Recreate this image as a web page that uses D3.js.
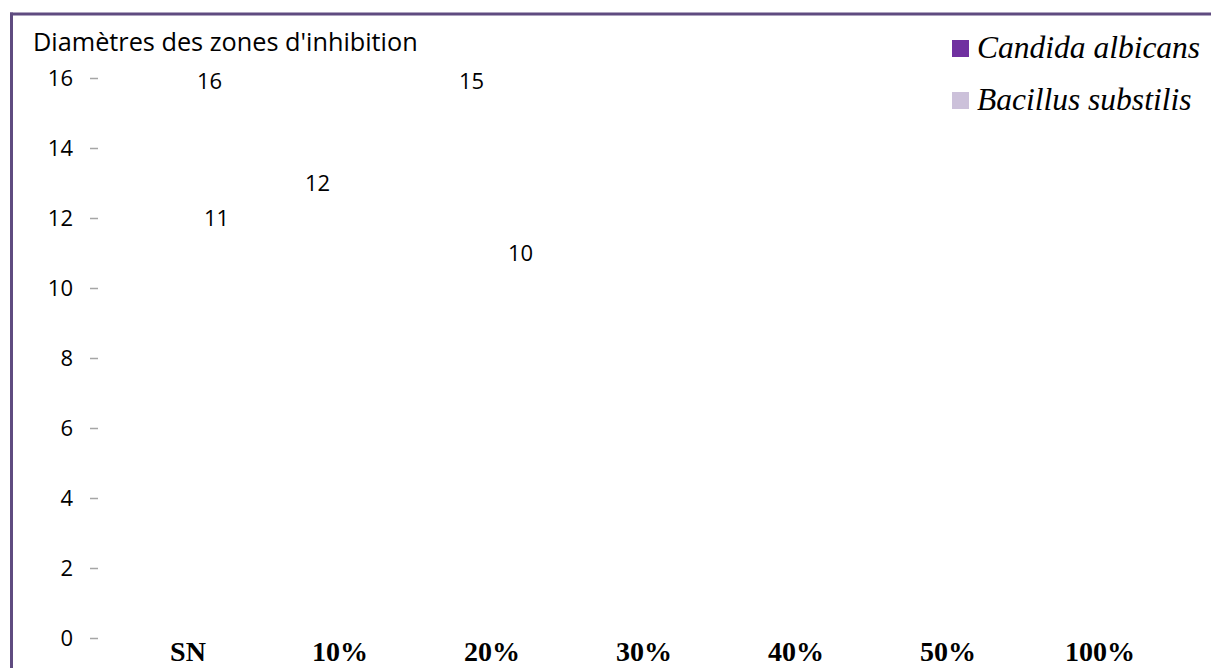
<!DOCTYPE html>
<html><head><meta charset="utf-8">
<script src="https://cdn.jsdelivr.net/npm/d3@7"></script>
<style>
html,body{margin:0;padding:0;background:#fff;}
svg{display:block;}
</style></head>
<body>
<svg id="chart" width="1211" height="668"></svg>
<script>
const categories = ["SN", "10%", "20%", "30%", "40%", "50%", "100%"];
const seriesNames = ["Candida albicans", "Bacillus substilis"];
const candida = [16, 12, 15, null, null, null, null];
const bacillus = [11, null, 10, null, null, null, null];
const yTicks = [0, 2, 4, 6, 8, 10, 12, 14, 16];
const titleText = "Diamètres des zones d'inhibition";
const colors = ["#7030A0", "#CCC1DA"];

const svg = d3.select("#chart");
const W = 1211, H = 668;

// frame (top and left border)
svg.append("line").attr("x1", 10).attr("x2", W).attr("y1", 14).attr("y2", 14)
  .attr("stroke", "#5F4B80").attr("stroke-width", 3);
svg.append("line").attr("x1", 11.5).attr("x2", 11.5).attr("y1", 12.5).attr("y2", H)
  .attr("stroke", "#5F4B80").attr("stroke-width", 3);

const y = d3.scaleLinear().domain([0, 16]).range([638, 78]);
const x = d3.scaleBand().domain(categories).range([112, 1176]).padding(0);
const x1 = d3.scaleBand().domain(seriesNames).range([-48 + x.bandwidth()/2, 54 + x.bandwidth()/2]);

// title
const title = svg.append("text").attr("x", 33).attr("y", 51)
  .attr("font-family", "'Open Sans', sans-serif").attr("font-size", 22)
  .attr("fill", "#000").text(titleText);
const tw = title.node().getComputedTextLength();
title.attr("font-size", 22 * 385 / tw);

// y axis
const yAxis = d3.axisLeft(y).tickValues(yTicks).tickSize(8).tickPadding(17).tickFormat(d3.format("d"));
const gy = svg.append("g").attr("transform", "translate(98,0)").call(yAxis);
gy.select(".domain").remove();
gy.selectAll(".tick line").attr("stroke", "#A6A6A6").attr("stroke-width", 1.5);
gy.selectAll(".tick text").attr("font-family", "'Open Sans', sans-serif")
  .attr("font-size", 22).attr("fill", "#000").attr("dy", "0.35em");

// x category labels
svg.append("g").selectAll("text").data(categories).join("text")
  .attr("x", d => x(d) + x.bandwidth()/2).attr("y", 661)
  .attr("text-anchor", "middle")
  .attr("font-family", "'Liberation Serif', 'Times New Roman', serif")
  .attr("font-weight", "bold").attr("font-size", 28).attr("fill", "#000")
  .text(d => d);

// data rows
const rows = [];
categories.forEach((c, i) => {
  rows.push({cat: c, series: seriesNames[0], value: candida[i]});
  rows.push({cat: c, series: seriesNames[1], value: bacillus[i]});
});
const valid = rows.filter(r => r.value != null);

// bars (rendered without visible fill, as in the reference)
svg.append("g").selectAll("rect").data(valid).join("rect")
  .attr("x", d => x(d.cat) + x1(d.series))
  .attr("width", x1.bandwidth())
  .attr("y", d => y(d.value))
  .attr("height", d => y(0) - y(d.value))
  .attr("fill", "none");

// data labels
const nudge = {"SN|Candida albicans": 44, "20%|Candida albicans": 2};
svg.append("g").selectAll("text").data(valid).join("text")
  .attr("x", d => x(d.cat) + x1(d.series) + x1.bandwidth()/2 + (nudge[d.cat + "|" + d.series] || 0))
  .attr("y", d => Math.max(y(d.value) - 35, y(16) + 3))
  .attr("dy", "0.35em")
  .attr("text-anchor", "middle")
  .attr("font-family", "'Open Sans', sans-serif").attr("font-size", 22).attr("fill", "#000")
  .text(d => d.value);

// legend
const leg = svg.append("g");
seriesNames.forEach((s, i) => {
  const ly = 40 + i * 52;
  leg.append("rect").attr("x", 952).attr("y", ly).attr("width", 17).attr("height", 17).attr("fill", colors[i]);
  leg.append("text").attr("x", 977).attr("y", ly + 18)
    .attr("font-family", "'Liberation Serif', 'Times New Roman', serif")
    .attr("font-style", "italic").attr("font-size", 31.5).attr("fill", "#000").text(s);
});
</script>
</body></html>
